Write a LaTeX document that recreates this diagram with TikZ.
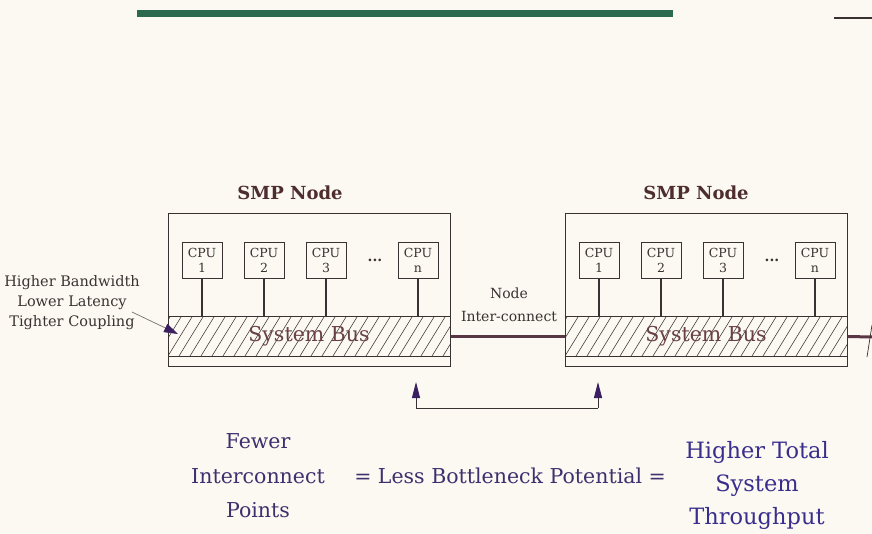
\documentclass[tikz,border=0pt]{standalone}
\usepackage{fontspec}
\setmainfont{DejaVu Serif}
\usetikzlibrary{arrows.meta}
\definecolor{bg}{HTML}{FBF9F2}
\definecolor{ink}{HTML}{3A3232}
\definecolor{busink}{HTML}{6A4048}
\definecolor{wire}{HTML}{5A3645}
\definecolor{barg}{HTML}{2C6A50}
\definecolor{purp}{HTML}{3E306E}
\definecolor{blu}{HTML}{3A2E8C}
\definecolor{headc}{HTML}{3A2060}
\begin{document}
\begin{tikzpicture}[x=1pt,y=-1pt,
  smpbox/.style={draw=ink, line width=1pt, minimum width=282pt, minimum height=153pt, anchor=north west, inner sep=0pt},
  busbox/.style={draw=ink, line width=1pt, minimum width=282pt, minimum height=39pt, inner sep=0pt,
     font=\fontsize{20.5}{22}\selectfont, text=busink,
     path picture={\foreach \k in {-4,...,28}{\draw[ink,line width=0.55pt]
        ([xshift=\k*11pt]path picture bounding box.south west) -- ++(24pt,39pt);}}},
  cpubox/.style={draw=ink, line width=0.9pt, minimum width=40pt, minimum height=36pt,
     inner sep=0pt, align=center, font=\fontsize{12.5}{15}\selectfont, text=ink},
  stem/.style={draw=ink, line width=1.8pt},
  title/.style={font=\bfseries\fontsize{18}{19}\selectfont, text=ink!90!red},
  dots/.style={font=\bfseries\fontsize{14}{15}\selectfont, text=ink},
  wirestyle/.style={draw=wire, line width=3pt},
  lbl/.style={text=ink, align=center},
  botp/.style={font=\fontsize{20.5}{34.5}\selectfont, text=purp, align=center},
  botb/.style={font=\fontsize{22.5}{33}\selectfont, text=blu, align=center},
  ptr/.style={draw=ink, line width=1pt, -{Triangle[length=16pt,width=8pt,color=headc]}}
]
\fill[bg] (0,0) rectangle (872,534);
\useasboundingbox (0,0) rectangle (872,534);

% header bar
\fill[barg] (137,10.5) rectangle (673,17.5);
\coordinate (hl1) at (834,18);
\coordinate (hl2) at (872,18);
\draw[ink, line width=1.2pt] (hl1) -- (hl2);

% SMP nodes
\foreach \nm/\x in {L/168, R/565}{
  \node[smpbox] (smp\nm) at (\x,213) {};
  \node[busbox] (bus\nm) at (\x+141,336.5) {System Bus};
  \node[cpubox] (c1\nm) at (\x+34,260) {CPU\\1};
  \node[cpubox] (c2\nm) at (\x+96,260) {CPU\\2};
  \node[cpubox] (c3\nm) at (\x+158,260) {CPU\\3};
  \node[cpubox] (cn\nm) at (\x+250,260) {CPU\\n};
  \node[dots] (dt\nm) at (\x+207,260) {...};
  \foreach \c in {c1,c2,c3,cn}{
    \draw[stem] (\c\nm.south) -- (\c\nm.south |- bus\nm.north);
  }
}
\node[title] (tL) at (290,193) {SMP Node};
\node[title] (tR) at (696,193) {SMP Node};

% interconnect
\draw[wirestyle] (busL.east) -- (busR.west);
\coordinate (outR) at (872,337);
\draw[wirestyle] (busR.east) -- (outR);
\coordinate (brk1) at (867,357);
\coordinate (brk2) at (872,325);
\draw[ink, line width=0.7pt] (brk1) -- (brk2);
\node[lbl, font=\fontsize{14}{23}\selectfont] (ic) at (509,305) {Node\\Inter-connect};

% left label
\node[lbl, font=\fontsize{14.5}{20}\selectfont] (hb) at (72,303) {Higher Bandwidth\\Lower Latency\\Tighter Coupling};
\coordinate (hbs) at (132,312);
\coordinate (hbe) at (178,334);
\draw[draw=ink!70, line width=0.7pt, -{Triangle[length=14pt,width=9pt,color=headc]}] (hbs) -- (hbe);

% lower bracket arrows
\coordinate (aL) at (416,382);
\coordinate (aR) at (598,382);
\coordinate (bL) at (416,408);
\coordinate (bR) at (598,408);
\draw[ptr] (bL) -- (aL);
\draw[ptr] (bR) -- (aR);
\draw[ink, line width=1pt] (bL) -- (bR);

% bottom text
\node[botp] (few) at (258,476) {Fewer\\Interconnect\\Points};
\node[botp] (mid) at (510,476) {= Less Bottleneck Potential =};
\node[botb] (hts) at (757,485) {Higher Total\\System\\Throughput};
\end{tikzpicture}
\end{document}
